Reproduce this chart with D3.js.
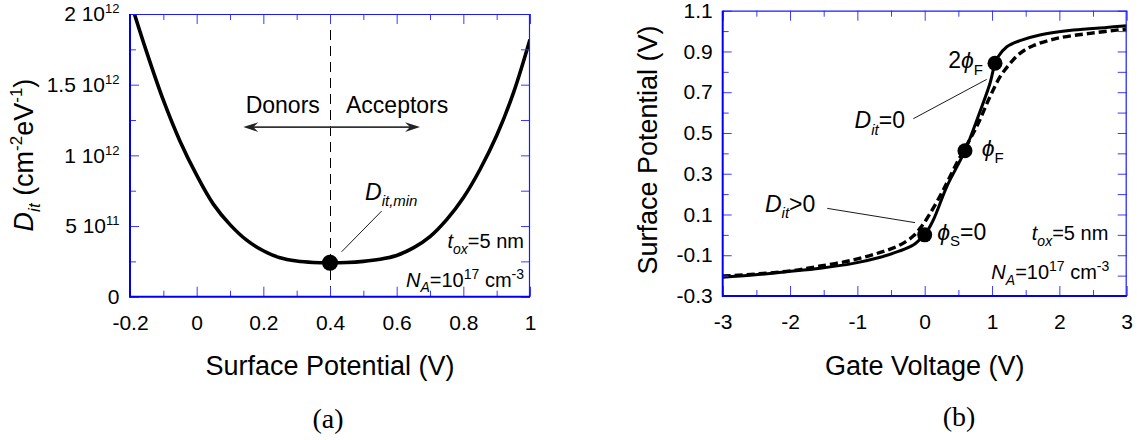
<!DOCTYPE html>
<html>
<head>
<meta charset="utf-8">
<script src="https://cdn.jsdelivr.net/npm/d3@7"></script>
<style>
  html, body { margin: 0; padding: 0; background: #fff; }
  svg { display: block; }
</style>
</head>
<body>
<svg id="chart" width="1145" height="440"></svg>
<script>
// ---------- Panel (a): interface-trap density vs. surface potential ----------
const psiA = [-0.2, -0.15, -0.1, -0.05, 0, 0.05, 0.1, 0.15, 0.2, 0.25, 0.3, 0.35, 0.4,
              0.45, 0.5, 0.55, 0.6, 0.65, 0.7, 0.75, 0.8, 0.85, 0.9, 0.95, 1.0];
const ditA = [2.10e12, 1.73e12, 1.39e12, 1.10e12, 0.86e12, 0.655e12, 0.51e12, 0.40e12,
              0.325e12, 0.275e12, 0.252e12, 0.242e12, 0.24e12, 0.242e12, 0.25e12,
              0.265e12, 0.292e12, 0.345e12, 0.425e12, 0.545e12, 0.70e12, 0.90e12,
              1.14e12, 1.44e12, 1.82e12];
const ditMinPsi = 0.4;
const ditMinVal = 2.4e11;

const xTicksA = [-0.2, 0, 0.2, 0.4, 0.6, 0.8, 1];
const xTickLabelsA = ["-0.2", "0", "0.2", "0.4", "0.6", "0.8", "1"];
const xMinorA = [-0.1, 0.1, 0.3, 0.5, 0.7, 0.9];
const yTicksA = [0, 5e11, 1e12, 1.5e12, 2e12];
const yTickMantA = ["0", "5 10", "1 10", "1.5 10", "2 10"];
const yTickExpA = ["", "11", "12", "12", "12"];
const yMinorA = [2.5e11, 7.5e11, 1.25e12, 1.75e12];

// ---------- Panel (b): surface potential vs. gate voltage ----------
const vgIdeal  = [-3, -2.55, -2.05, -1.55, -1.06, -0.66, -0.37, -0.17, -0.07, 0, 0.128,
                  0.327, 0.598, 0.82, 0.97, 1.044, 1.09, 1.22, 1.415, 1.71, 2.21, 2.7, 3];
const psiIdeal = [-0.208, -0.197, -0.181, -0.164, -0.140, -0.110, -0.079, -0.050, -0.022,
                  0.0, 0.073, 0.236, 0.413, 0.604, 0.744, 0.842, 0.874, 0.923, 0.953,
                  0.981, 1.005, 1.018, 1.026];
const vgTrap   = [-3, -2.5, -2, -1.55, -1.06, -0.66, -0.37, -0.17, -0.07, 0.02, 0.25,
                  0.475, 0.77, 0.97, 1.12, 1.27, 1.415, 1.61, 1.96, 2.455, 3];
const psiTrap  = [-0.202, -0.192, -0.177, -0.153, -0.123, -0.086, -0.050, -0.006, 0.032,
                  0.073, 0.204, 0.351, 0.53, 0.678, 0.776, 0.842, 0.891, 0.928, 0.964,
                  0.989, 1.01];
const markVg  = [0, 0.598, 1.044];
const markPsi = [0, 0.413, 0.842];

const xTicksB = [-3, -2, -1, 0, 1, 2, 3];
const xTickLabelsB = ["-3", "-2", "-1", "0", "1", "2", "3"];
const xMinorB = [-2.5, -1.5, -0.5, 0.5, 1.5, 2.5];
const yTicksB = [-0.3, -0.1, 0.1, 0.3, 0.5, 0.7, 0.9, 1.1];
const yTickLabelsB = ["-0.3", "-0.1", "0.1", "0.3", "0.5", "0.7", "0.9", "1.1"];
const yMinorB = [-0.2, 0, 0.2, 0.4, 0.6, 0.8, 1.0];

// ---------- shared styling ----------
const SANS = "'Liberation Sans', Arial, Helvetica, sans-serif";
const SERIF = "'Liberation Serif', 'Times New Roman', serif";
const AXIS_BLUE = "#1a1aff";
const TICK_BLUE = "#3a3aff";
const TICK_FONT = 21;
const TITLE_FONT = 27;
const NOTE_FONT = 23;
const SMALL_FONT = 20;

const svg = d3.select("#chart");
svg.append("rect").attr("width", 1145).attr("height", 440).attr("fill", "#fff");

// text made of runs (italic / subscript / superscript)
function rich(parent, x, y, parts, size, anchor, transform) {
  const t = parent.append("text")
    .attr("x", x).attr("y", y)
    .attr("font-family", SANS)
    .attr("font-size", size)
    .attr("text-anchor", anchor || "start")
    .attr("fill", "#000");
  if (transform) t.attr("transform", transform);
  let cur = 0;
  parts.forEach(p => {
    const s = p.size || size * 0.64;
    const off = p.sub ? size * 0.28 : p.sup ? -size * 0.38 : 0;
    const ts = t.append("tspan").attr("dy", off - cur).text(p.t);
    cur = off;
    if (p.sub || p.sup) ts.attr("font-size", s);
    if (p.it) ts.attr("font-style", "italic");
  });
  return t;
}

// box with inward ticks on four sides
function frame(g, x, y, o) {
  const [x0, x1] = x.range();
  const [y0, y1] = y.range(); // y0 bottom, y1 top
  const tidy = sel => { sel.select(".domain").remove(); sel.selectAll(".tick line").attr("stroke", TICK_BLUE); };

  const bottom = g.append("g").attr("transform", `translate(0,${y0})`)
    .call(d3.axisBottom(x).tickValues(o.xTicks).tickSize(-10).tickPadding(18)
      .tickFormat((d, i) => o.xLabels[i]))
    .call(tidy);
  bottom.attr("font-family", SANS).attr("font-size", TICK_FONT);
  bottom.selectAll(".tick text").attr("fill", "#000");
  g.append("g").attr("transform", `translate(0,${y0})`)
    .call(d3.axisBottom(x).tickValues(o.xMinor).tickSize(-6).tickFormat(""))
    .call(tidy);

  g.append("g").attr("transform", `translate(0,${y1})`)
    .call(d3.axisTop(x).tickValues(o.xTicks).tickSize(-10).tickFormat(""))
    .call(tidy);
  g.append("g").attr("transform", `translate(0,${y1})`)
    .call(d3.axisTop(x).tickValues(o.xMinor).tickSize(-6).tickFormat(""))
    .call(tidy);

  const left = g.append("g").attr("transform", `translate(${x0},0)`)
    .call(d3.axisLeft(y).tickValues(o.yTicks).tickSize(-9).tickPadding(o.yPad)
      .tickFormat(() => ""))
    .call(tidy);
  left.attr("font-family", SANS).attr("font-size", TICK_FONT);
  left.selectAll(".tick text").attr("fill", "#000").each(function (d, i) {
    const t = d3.select(this);
    t.append("tspan").text(o.yLabels[i]);
    if (o.yExp && o.yExp[i]) {
      t.append("tspan").attr("font-size", 13).attr("dy", -8).text(o.yExp[i]);
    }
  });
  g.append("g").attr("transform", `translate(${x0},0)`)
    .call(d3.axisLeft(y).tickValues(o.yMinor).tickSize(-6).tickFormat(""))
    .call(tidy);

  g.append("g").attr("transform", `translate(${x1},0)`)
    .call(d3.axisRight(y).tickValues(o.yTicks.concat(o.yMinor)).tickSize(-9).tickFormat(""))
    .call(tidy);

  // frame edges: heavier on the left and bottom
  g.append("line").attr("x1", x0).attr("x2", x1).attr("y1", y1 + 0.5).attr("y2", y1 + 0.5)
    .attr("stroke", AXIS_BLUE).attr("stroke-width", 1.2);
  g.append("line").attr("x1", x1 - 0.5).attr("x2", x1 - 0.5).attr("y1", y1).attr("y2", y0)
    .attr("stroke", AXIS_BLUE).attr("stroke-width", 1.2);
  g.append("line").attr("x1", x0).attr("x2", x1).attr("y1", y0).attr("y2", y0)
    .attr("stroke", "#0000ee").attr("stroke-width", 2);
  g.append("line").attr("x1", x0).attr("x2", x0).attr("y1", y1).attr("y2", y0 + 1)
    .attr("stroke", "#0000ee").attr("stroke-width", 2);
}

const smooth = d3.curveCatmullRom.alpha(0.5);

// ================= Panel (a) =================
const xA = d3.scaleLinear().domain([-0.2, 1]).range([130, 530]);
const yA = d3.scaleLinear().domain([0, 2e12]).range([296.7, 14]);
const gA = svg.append("g");

const defs = svg.append("defs");
defs.append("clipPath").attr("id", "clipA")
  .append("rect").attr("x", 130).attr("y", 14).attr("width", 400).attr("height", 282.7);
defs.append("clipPath").attr("id", "clipB")
  .append("rect").attr("x", 722.7).attr("y", 10.7).attr("width", 404).attr("height", 285.3);

// dashed separator at midgap
gA.append("line")
  .attr("x1", xA(ditMinPsi) + 0.5).attr("x2", xA(ditMinPsi) + 0.5)
  .attr("y1", yA(2e12)).attr("y2", yA(0))
  .attr("stroke", "#000").attr("stroke-width", 1).attr("stroke-dasharray", "10,6")
  .attr("shape-rendering", "crispEdges");

// Dit curve
const lineA = d3.line().x((d, i) => xA(psiA[i])).y(d => yA(d)).curve(smooth);
gA.append("path").datum(ditA).attr("d", lineA)
  .attr("fill", "none").attr("stroke", "#000").attr("stroke-width", 3.6)
  .attr("clip-path", "url(#clipA)");

// minimum marker
gA.append("circle").attr("cx", xA(ditMinPsi)).attr("cy", yA(ditMinVal)).attr("r", 8).attr("fill", "#000");

// leader to the minimum label
gA.append("line")
  .attr("x1", xA(0.435)).attr("y1", yA(0.318e12))
  .attr("x2", xA(0.555)).attr("y2", yA(0.606e12))
  .attr("stroke", "#000").attr("stroke-width", 0.9);
rich(gA, xA(0.505), yA(0.684e12),
  [{ t: "D", it: true }, { t: "it,min", sub: true, it: true, size: 15 }], NOTE_FONT);

// donors / acceptors double arrow
const arrY = yA(1.2e12), ax0 = xA(0.14), ax1 = xA(0.67);
gA.append("line").attr("x1", ax0 + 4).attr("x2", ax1 - 4).attr("y1", arrY).attr("y2", arrY)
  .attr("stroke", "#333").attr("stroke-width", 1.6);
gA.append("path")
  .attr("d", `M${ax0},${arrY} L${ax0 + 15},${arrY - 4.8} L${ax0 + 10},${arrY} L${ax0 + 15},${arrY + 4.8} Z`)
  .attr("fill", "#222");
gA.append("path")
  .attr("d", `M${ax1},${arrY} L${ax1 - 15},${arrY - 4.8} L${ax1 - 10},${arrY} L${ax1 - 15},${arrY + 4.8} Z`)
  .attr("fill", "#222");
rich(gA, xA(0.147), yA(1.30e12), [{ t: "Donors" }], NOTE_FONT);
rich(gA, xA(0.448), yA(1.30e12), [{ t: "Acceptors" }], NOTE_FONT);

// device parameters
rich(gA, xA(0.982), yA(0.342e12),
  [{ t: "t", it: true }, { t: "ox", sub: true, it: true, size: 14 }, { t: "=5 nm" }], SMALL_FONT, "end");
rich(gA, xA(0.982), yA(0.07e12),
  [{ t: "N", it: true }, { t: "A", sub: true, it: true, size: 14 }, { t: "=10" },
   { t: "17", sup: true, size: 14 }, { t: " cm" }, { t: "-3", sup: true, size: 14 }], SMALL_FONT, "end");

frame(gA, xA, yA, {
  xTicks: xTicksA, xLabels: xTickLabelsA, xMinor: xMinorA,
  yTicks: yTicksA, yLabels: yTickMantA, yExp: yTickExpA, yMinor: yMinorA, yPad: 10.5
});

// axis titles (a)
rich(gA, 330, 375, [{ t: "Surface Potential (V)" }], TITLE_FONT, "middle");
rich(gA, 0, 0,
  [{ t: "D", it: true }, { t: "it", sub: true, it: true, size: 17 }, { t: " (cm" },
   { t: "-2", sup: true, size: 17 }, { t: "eV" }, { t: "-1", sup: true, size: 17 }, { t: ")" }],
  TITLE_FONT, "middle", "translate(32.5,155) rotate(-90)");
gA.append("text").attr("x", 328).attr("y", 428).attr("font-family", SERIF)
  .attr("font-size", 28).attr("text-anchor", "middle").text("(a)");

// ================= Panel (b) =================
const xB = d3.scaleLinear().domain([-3, 3]).range([722.7, 1126.7]);
const yB = d3.scaleLinear().domain([-0.3, 1.1]).range([296, 10.7]);
const gB = svg.append("g");

const lineIdeal = d3.line().x((d, i) => xB(vgIdeal[i])).y(d => yB(d)).curve(smooth);
const lineTrap = d3.line().x((d, i) => xB(vgTrap[i])).y(d => yB(d)).curve(smooth);

gB.append("path").datum(psiTrap).attr("d", lineTrap)
  .attr("fill", "none").attr("stroke", "#000").attr("stroke-width", 3.4)
  .attr("stroke-dasharray", "8,4").attr("clip-path", "url(#clipB)");
gB.append("path").datum(psiIdeal).attr("d", lineIdeal)
  .attr("fill", "none").attr("stroke", "#000").attr("stroke-width", 3)
  .attr("clip-path", "url(#clipB)");

gB.selectAll("circle.mark").data(markVg).join("circle").attr("class", "mark")
  .attr("cx", d => xB(d)).attr("cy", (d, i) => yB(markPsi[i])).attr("r", 7.5).attr("fill", "#000");

// leaders
gB.append("line").attr("x1", xB(-0.169)).attr("y1", yB(0.570))
  .attr("x2", xB(0.921)).attr("y2", yB(0.763)).attr("stroke", "#000").attr("stroke-width", 0.9);
gB.append("line").attr("x1", xB(-1.447)).attr("y1", yB(0.130))
  .attr("x2", xB(-0.144)).attr("y2", yB(0.06)).attr("stroke", "#000").attr("stroke-width", 0.9);

rich(gB, xB(-0.293), yB(0.523),
  [{ t: "D", it: true }, { t: "it", sub: true, it: true, size: 15 }, { t: "=0" }], NOTE_FONT, "end");
rich(gB, xB(-2.372), yB(0.114),
  [{ t: "D", it: true }, { t: "it", sub: true, it: true, size: 15 }, { t: ">0" }], NOTE_FONT);
rich(gB, xB(0.35), yB(0.817),
  [{ t: "2" }, { t: "ϕ", it: true }, { t: "F", sub: true, size: 15 }], NOTE_FONT);
rich(gB, xB(0.847), yB(0.385),
  [{ t: "ϕ", it: true }, { t: "F", sub: true, size: 15 }], NOTE_FONT);
rich(gB, xB(0.187), yB(-0.025),
  [{ t: "ϕ", it: true }, { t: "S", sub: true, size: 15 }, { t: "=0" }], NOTE_FONT);

rich(gB, xB(2.727), yB(-0.025),
  [{ t: "t", it: true }, { t: "ox", sub: true, it: true, size: 14 }, { t: "=5 nm" }], SMALL_FONT, "end");
rich(gB, xB(2.742), yB(-0.217),
  [{ t: "N", it: true }, { t: "A", sub: true, it: true, size: 14 }, { t: "=10" },
   { t: "17", sup: true, size: 14 }, { t: " cm" }, { t: "-3", sup: true, size: 14 }], SMALL_FONT, "end");

frame(gB, xB, yB, {
  xTicks: xTicksB, xLabels: xTickLabelsB, xMinor: xMinorB,
  yTicks: yTicksB, yLabels: yTickLabelsB, yExp: null, yMinor: yMinorB, yPad: 10
});

rich(gB, 924.7, 375, [{ t: "Gate Voltage (V)" }], TITLE_FONT, "middle");
rich(gB, 0, 0, [{ t: "Surface Potential (V)" }], TITLE_FONT, "middle",
  "translate(657,150) rotate(-90)");
gB.append("text").attr("x", 959).attr("y", 426).attr("font-family", SERIF)
  .attr("font-size", 28).attr("text-anchor", "middle").text("(b)");
</script>
</body>
</html>
